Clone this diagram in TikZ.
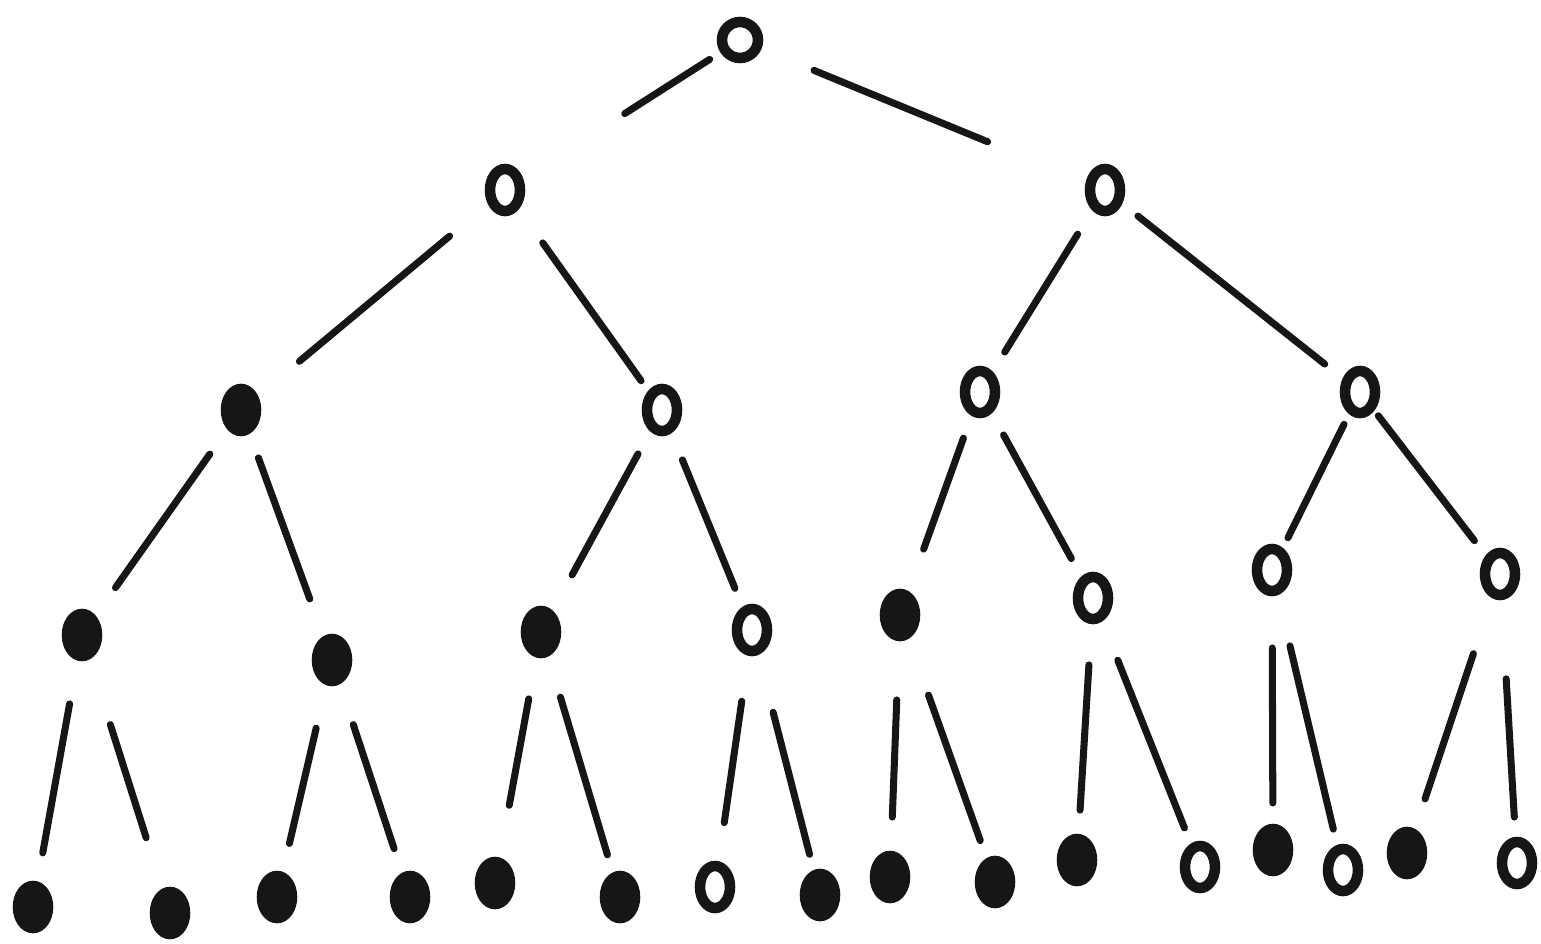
\documentclass[tikz,border=0pt]{standalone}
\usepackage{tikz}
\usetikzlibrary{shapes.geometric}
\definecolor{InkBlack}{RGB}{22,22,22}

\begin{document}
\begin{tikzpicture}[
  vtx/.style={ellipse,draw=InkBlack,line width=3pt,inner sep=0pt,
    minimum width=0.3cm,minimum height=0.42cm},
  full/.style={vtx,fill=InkBlack},
  hollow/.style={vtx,fill=white},
  edge/.style={InkBlack,line width=2pt,line cap=round}]
  \useasboundingbox (0,0) rectangle (15.41,9.43);
  % top levels
  \node[hollow,minimum width=0.36cm,minimum height=0.36cm] (r) at (7.40,9.03) {};
  \node[hollow] (n1) at (5.05,7.53) {};
  \node[hollow] (n2) at (11.05,7.53) {};
  \node[full] (n3) at (2.41,5.33) {};
  \node[hollow] (n4) at (6.62,5.33) {};
  \node[hollow] (n5) at (9.80,5.51) {};
  \node[hollow] (n6) at (13.60,5.51) {};
  % third level
  \node[full] (n7) at (0.82,3.08) {};
  \node[full] (n8) at (3.32,2.83) {};
  \node[full] (n9) at (5.41,3.11) {};
  \node[hollow] (n10) at (7.52,3.13) {};
  \node[full] (n11) at (9.00,3.28) {};
  \node[hollow] (n12) at (10.93,3.45) {};
  \node[hollow] (n13) at (12.72,3.73) {};
  \node[hollow] (n14) at (15.00,3.69) {};
  % leaves
  \begin{scope}[every node/.append style={minimum width=0.36cm,minimum height=0.46cm}]
    \node[full] (l1) at (0.33,0.36) {};
    \node[full] (l2) at (1.70,0.30) {};
    \node[full] (l3) at (2.77,0.46) {};
    \node[full] (l4) at (4.10,0.46) {};
    \node[full] (l5) at (4.95,0.60) {};
    \node[full] (l6) at (6.20,0.46) {};
    \node[hollow] (l7) at (7.15,0.56) {};
    \node[full] (l8) at (8.20,0.48) {};
    \node[full] (l9) at (8.90,0.66) {};
    \node[full] (l10) at (9.95,0.61) {};
    \node[full] (l11) at (10.77,0.83) {};
    \node[hollow] (l12) at (12.00,0.76) {};
    \node[full] (l13) at (12.73,0.93) {};
    \node[hollow] (l14) at (13.43,0.73) {};
    \node[full] (l15) at (14.07,0.90) {};
    \node[hollow] (l16) at (15.17,0.80) {};
  \end{scope}
  % branches, with gaps at both ends
  \foreach \a/\b/\s/\e in {r/n1/0.36/1.42, r/n2/0.80/1.27,
      n1/n3/0.72/0.76, n1/n4/0.65/0.36, n2/n5/0.52/0.47, n2/n6/0.42/0.45,
      n3/n7/0.54/0.58, n3/n8/0.51/0.65, n4/n9/0.50/0.65, n4/n10/0.54/0.45,
      n5/n11/0.49/0.70, n5/n12/0.49/0.45, n6/n13/0.36/0.36, n6/n14/0.30/0.42,
      n7/l1/0.70/0.55, n7/l2/0.94/0.79, n8/l3/0.70/0.55, n8/l4/0.68/0.51,
      n9/l5/0.68/0.79, n9/l6/0.68/0.44, n10/l7/0.72/0.65, n10/l8/0.85/0.42,
      n11/l9/0.85/0.60, n11/l10/0.85/0.44, n12/l11/0.67/0.50, n12/l12/0.67/0.42,
      n13/l13/0.78/0.47, n13/l14/0.78/0.42, n14/l15/0.84/0.57, n14/l16/1.05/0.46}
    \draw[edge,shorten <=\s cm,shorten >=\e cm] (\a.center) -- (\b.center);
\end{tikzpicture}
\end{document}
